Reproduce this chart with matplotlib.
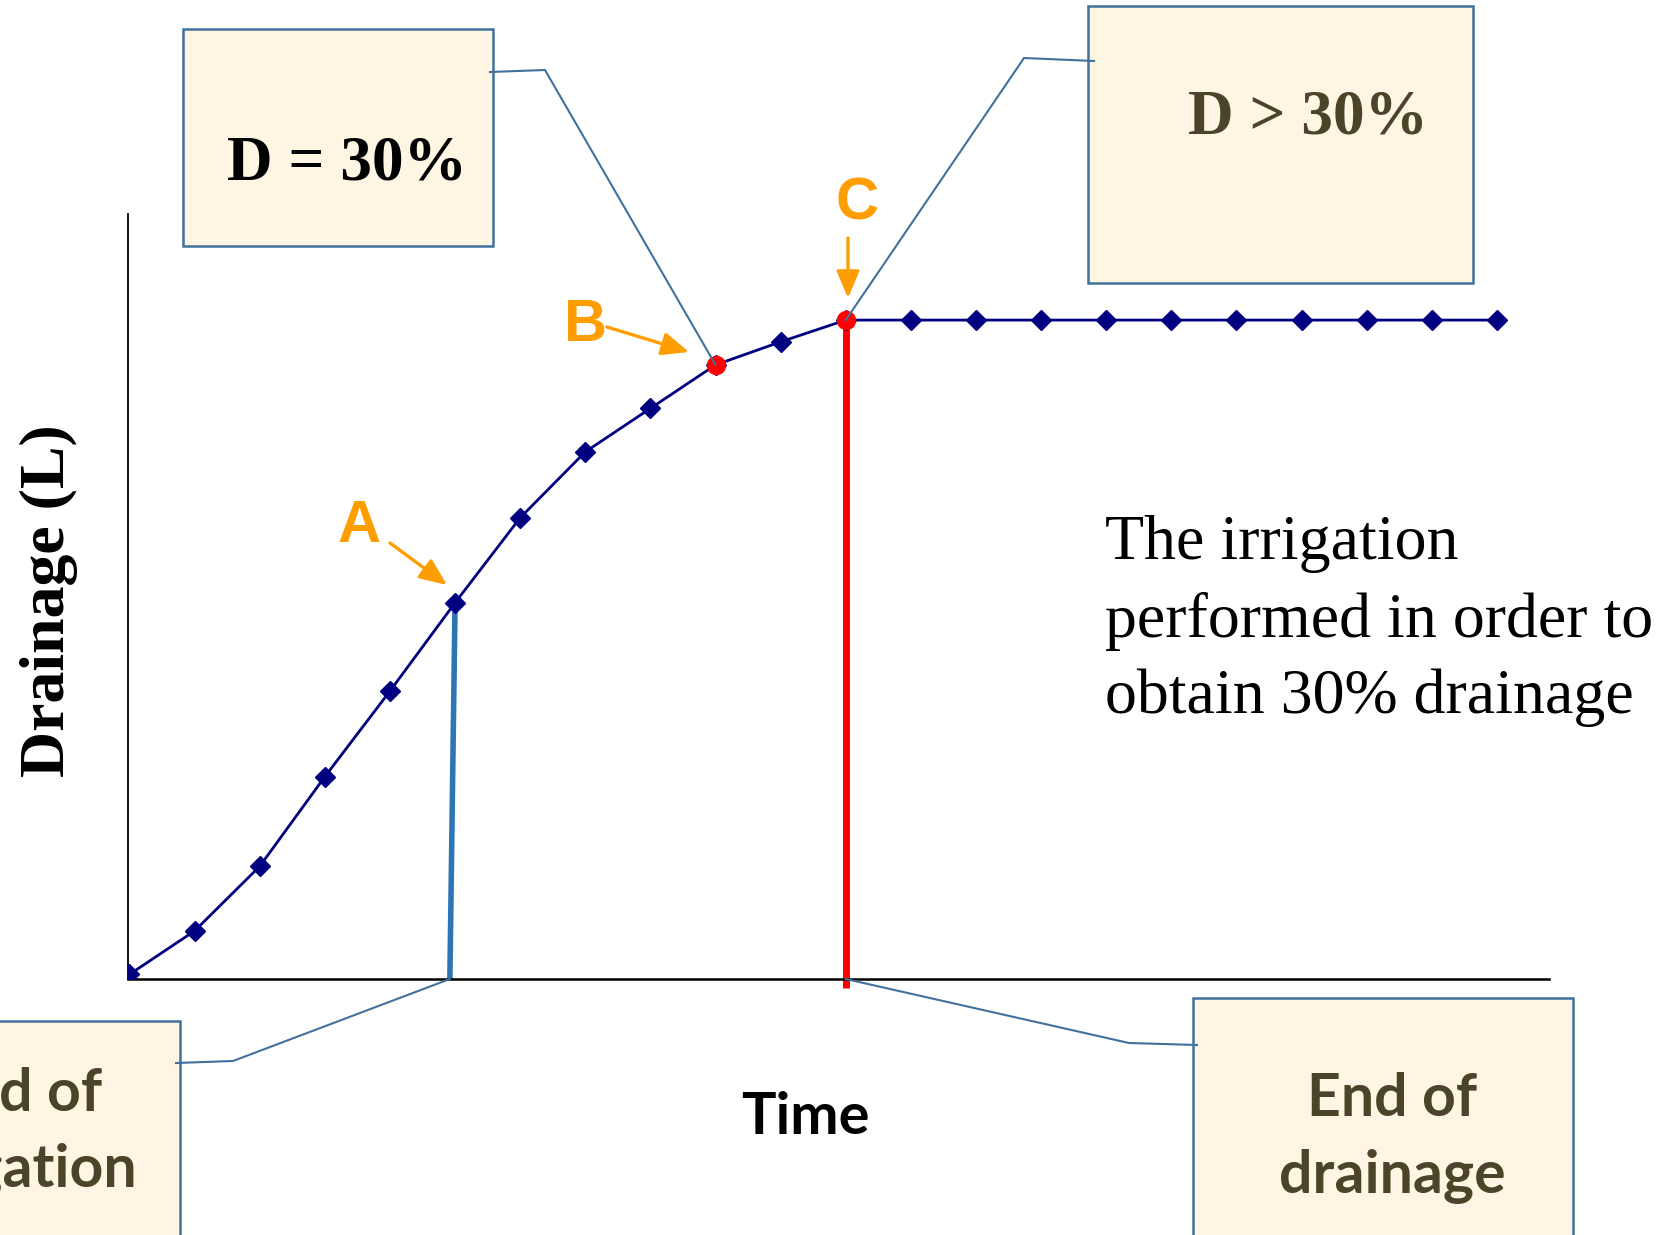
import matplotlib
matplotlib.use("Agg")
import matplotlib.pyplot as plt
from matplotlib.patches import Rectangle, FancyArrowPatch

# ---- data -------------------------------------------------------------
time_steps = list(range(22))
drainage = [0.7, 7.3, 17.1, 30.7, 43.7, 57.1, 70.0, 80.0, 86.6, 93.2, 96.7,
            100.0, 100.0, 100.0, 100.0, 100.0, 100.0, 100.0, 100.0, 100.0,
            100.0, 100.0]
idx_a, idx_b, idx_c = 5, 9, 11          # end of irrigation, D = 30 %, end of drainage
irrigation_end_time = 4.92               # where the irrigation line meets the time axis

# ---- styles -----------------------------------------------------------
NAVY = "#000080"
ORANGE = "#FF9E00"
LEADER = "#41719C"
BOX_FILL = "#FEF5E2"
BROWN = "#4A4429"
SERIF = ["Liberation Serif", "DejaVu Serif"]
SANS = ["Liberation Sans", "DejaVu Sans"]
HUMAN = ["Lato", "DejaVu Sans"]

W, H = 1660, 1235
fig = plt.figure(figsize=(W / 100, H / 100), dpi=100)
fig.patch.set_facecolor("white")

ax = fig.add_axes([128 / W, (H - 979) / H, (1549 - 128) / W, (979 - 214) / H])
ax.set_xlim(-0.023, 21.8)
ax.set_ylim(0, 116.1)
for side in ("top", "right"):
    ax.spines[side].set_visible(False)
ax.spines["left"].set_linewidth(1.3)
ax.spines["bottom"].set_linewidth(1.8)
ax.set_xticks([])
ax.set_yticks([])
ax.patch.set_alpha(0)

# drainage curve
ax.plot(time_steps, drainage, color=NAVY, lw=2.0, marker="D", ms=10.5,
        mec=NAVY, mfc=NAVY, zorder=3)
# highlighted points B and C
ax.plot([time_steps[idx_b], time_steps[idx_c]],
        [drainage[idx_b], drainage[idx_c]], "o", color="#FF0000", ms=13,
        zorder=4)
# end of irrigation (blue) and end of drainage (red) markers
ax.plot([time_steps[idx_a], irrigation_end_time], [drainage[idx_a], 0],
        color="#2E75B6", lw=4.0, zorder=2, solid_capstyle="butt")
ax.plot([time_steps[idx_c], time_steps[idx_c]], [drainage[idx_c], -1.3],
        color="#FF0000", lw=5.0, zorder=2, clip_on=False,
        solid_capstyle="butt")

# ---- overlay in pixel coordinates --------------------------------------
ov = fig.add_axes([0, 0, 1, 1], zorder=5)
ov.set_xlim(0, W)
ov.set_ylim(H, 0)
ov.axis("off")
ov.patch.set_alpha(0)


def to_px(x, y):
    dx, dy = ax.transData.transform((x, y))
    return dx, H - dy


def box(x0, y0, x1, y1):
    ov.add_patch(Rectangle((x0, y0), x1 - x0, y1 - y0, facecolor=BOX_FILL,
                           edgecolor=LEADER, lw=1.8, clip_on=True, zorder=1))


def leader(points):
    xs, ys = zip(*points)
    ov.plot(xs, ys, color=LEADER, lw=1.5, zorder=6, solid_joinstyle="miter")


def arrow(tail, tip):
    ov.add_patch(FancyArrowPatch(tail, tip,
                                 arrowstyle="-|>,head_length=0.75,head_width=0.32",
                                 mutation_scale=22, color=ORANGE, lw=2.4,
                                 shrinkA=0, shrinkB=0, zorder=6))


pb = to_px(time_steps[idx_b], drainage[idx_b])
pc = to_px(time_steps[idx_c], drainage[idx_c])
pa0 = to_px(irrigation_end_time, 0)
pc0 = to_px(time_steps[idx_c], 0)

# callout boxes
box(183, 29, 493, 246)
ov.text(347, 180, "D = 30%", family=SERIF, weight="bold", fontsize=45.5,
        color="black", ha="center", va="baseline")
leader([(490, 72), (545, 70), pb])

box(1088, 6, 1473, 283)
ov.text(1308, 133, "D > 30%", family=SERIF, weight="bold", fontsize=45.5,
        color=BROWN, ha="center", va="baseline")
leader([(1094, 61), (1024, 58), pc])

box(-200, 1021, 180, 1300)
ov.text(17, 1111, "End of", family=HUMAN, weight="bold", fontsize=42.5,
        color=BROWN, ha="center", va="baseline")
ov.text(17, 1187, "irrigation", family=HUMAN, weight="bold", fontsize=42.5,
        color=BROWN, ha="center", va="baseline")
leader([(176, 1063), (233, 1061), pa0])

box(1193, 998, 1573, 1300)
ov.text(1392, 1116, "End of", family=HUMAN, weight="bold", fontsize=42.5,
        color=BROWN, ha="center", va="baseline")
ov.text(1392, 1193, "drainage", family=HUMAN, weight="bold", fontsize=42.5,
        color=BROWN, ha="center", va="baseline")
leader([(1197, 1045), (1129, 1043), pc0])

# point letters and arrows
ov.text(359, 542, "A", family=SANS, weight="bold", fontsize=43,
        color=ORANGE, ha="center", va="baseline")
arrow((390, 543), (447, 585))
ov.text(585, 341, "B", family=SANS, weight="bold", fontsize=43,
        color=ORANGE, ha="center", va="baseline")
arrow((607, 327), (689, 352))
ov.text(857, 219, "C", family=SANS, weight="bold", fontsize=43,
        color=ORANGE, ha="center", va="baseline")
arrow((848, 238), (848, 298))

# axis titles
ov.text(805, 1134, "Time", family=HUMAN, weight="bold", fontsize=41.5,
        color="black", ha="center", va="baseline")
ov.text(49, 601, "Drainage (L)", family=SERIF, weight="bold", fontsize=46,
        color="black", ha="center", va="center", rotation=90)

# explanatory note
for y, line in ((559, "The irrigation"), (637, "performed in order to"),
                (713, "obtain 30% drainage")):
    ov.text(1105, y, line, family=SERIF, fontsize=46, color="black",
            ha="left", va="baseline")

fig.savefig("out.png", dpi=100)
